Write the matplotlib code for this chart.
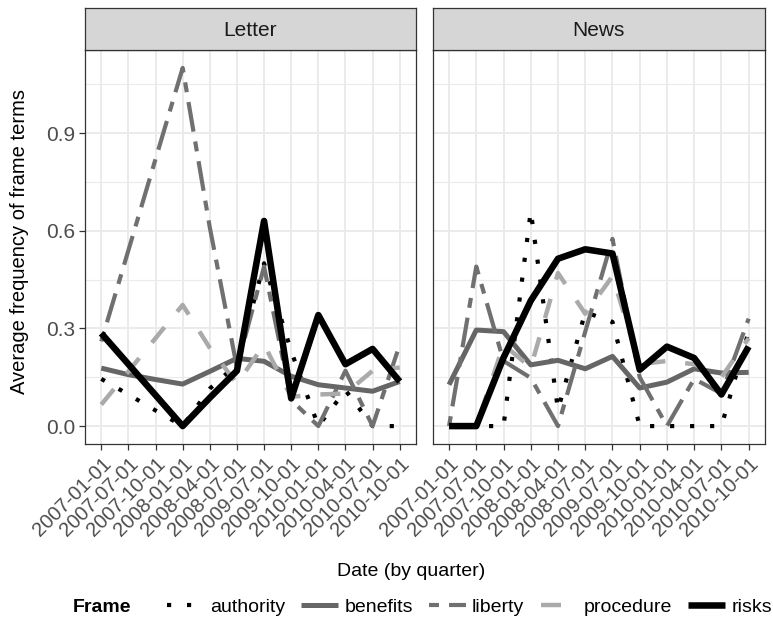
import numpy as np
import matplotlib
matplotlib.use("Agg")
import matplotlib.pyplot as plt

quarters = ["2007-01-01", "2007-07-01", "2007-10-01", "2008-01-01",
            "2008-04-01", "2008-07-01", "2009-07-01", "2009-10-01",
            "2010-01-01", "2010-04-01", "2010-07-01", "2010-10-01"]
frames = ["authority", "benefits", "liberty", "procedure", "risks"]
panels = ["Letter", "News"]

# average frequency of frame terms, one list per frame and source
letter_authority = [0.145, 0.097, 0.048, 0.0, 0.115, 0.19, 0.50, 0.23, 0.0, 0.11, 0.0, 0.0]
letter_benefits = [0.178, 0.158, 0.143, 0.129, 0.168, 0.208, 0.199, 0.153, 0.127, 0.117, 0.107, 0.137]
letter_liberty = [0.26, 0.54, 0.82, 1.10, 0.61, 0.18, 0.49, 0.08, 0.0, 0.17, 0.0, 0.25]
letter_procedure = [0.066, 0.168, 0.27, 0.372, 0.24, 0.13, 0.25, 0.09, 0.097, 0.10, 0.17, 0.18]
letter_risks = [0.285, 0.19, 0.095, 0.0, 0.087, 0.17, 0.63, 0.085, 0.341, 0.19, 0.237, 0.137]

news_authority = [0.0, 0.0, 0.0, 0.66, 0.05, 0.35, 0.32, 0.0, 0.0, 0.0, 0.0, 0.29]
news_benefits = [0.127, 0.295, 0.29, 0.188, 0.202, 0.176, 0.214, 0.117, 0.135, 0.176, 0.163, 0.165]
news_liberty = [0.0, 0.49, 0.2, 0.148, 0.0, 0.29, 0.575, 0.15, 0.0, 0.145, 0.1, 0.33]
news_procedure = [0.0, 0.0, 0.25, 0.18, 0.47, 0.345, 0.46, 0.19, 0.2, 0.19, 0.15, 0.27]
news_risks = [0.0, 0.0, 0.21, 0.385, 0.514, 0.543, 0.53, 0.173, 0.244, 0.209, 0.097, 0.244]

data = {
    "Letter": [letter_authority, letter_benefits, letter_liberty, letter_procedure, letter_risks],
    "News": [news_authority, news_benefits, news_liberty, news_procedure, news_risks],
}

# style per frame: colour, width (pt), dash pattern (in line widths)
styles = {
    "authority": dict(color="black", lw=3.0, dashes=(1, 3.8)),
    "benefits": dict(color="#666666", lw=3.6, dashes=None),
    "liberty": dict(color="#707070", lw=3.0, dashes=(2.4, 2.4, 7.2, 2.4)),
    "procedure": dict(color="#aaaaaa", lw=3.2, dashes=(4.5, 4.5)),
    "risks": dict(color="black", lw=4.7, dashes=None),
}

W, H = 773, 622


def box(x0, y0, x1, y1):
    return [x0 / W, 1 - y1 / H, (x1 - x0) / W, (y1 - y0) / H]


plt.rcParams["font.family"] = ["Liberation Sans", "DejaVu Sans"]

fig = plt.figure(figsize=(W / 100, H / 100), dpi=100)

panel_x = {"Letter": (85, 416), "News": (432.7, 765)}
x = np.arange(len(quarters))
handles = []

for name in panels:
    x0, x1 = panel_x[name]
    ax = fig.add_axes(box(x0, 50, x1, 444))
    for frame, values in zip(frames, data[name]):
        st = styles[frame]
        line, = ax.plot(x, values, color=st["color"], lw=st["lw"],
                        solid_capstyle="butt", label=frame)
        if st["dashes"] is not None:
            line.set_dashes(st["dashes"])
        if name == "Letter":
            handles.append(line)

    ax.set_xlim(-0.6, len(quarters) - 0.4)
    ax.set_ylim(-0.055, 1.155)
    ax.set_xticks(x)
    ax.set_xticklabels(quarters, rotation=45, ha="right", va="top",
                       rotation_mode="anchor", fontsize=14.5)
    ax.set_yticks([0.0, 0.3, 0.6, 0.9])
    ax.set_yticks([0.15, 0.45, 0.75, 1.05], minor=True)
    if name == "Letter":
        ax.set_yticklabels(["0.0", "0.3", "0.6", "0.9"], fontsize=15)
    else:
        ax.tick_params(axis="y", which="both", left=False, labelleft=False)
    ax.grid(True, which="major", color="#ebebeb", lw=1.4)
    ax.grid(True, which="minor", axis="y", color="#ebebeb", lw=0.8)
    ax.set_axisbelow(True)
    ax.tick_params(which="major", length=4, width=0.9, color="#333333",
                   labelcolor="#4d4d4d", pad=3)
    ax.tick_params(which="minor", length=0)
    for sp in ax.spines.values():
        sp.set_color("#333333")
        sp.set_linewidth(0.9)

    strip = fig.add_axes(box(x0, 8, x1, 50))
    strip.set_facecolor("#d6d6d6")
    strip.set_xticks([])
    strip.set_yticks([])
    for sp in strip.spines.values():
        sp.set_color("#333333")
        sp.set_linewidth(0.9)
    strip.text(0.5, 0.47, name, ha="center", va="center", fontsize=15,
               color="#1a1a1a", transform=strip.transAxes)

fig.text(20 / W, 1 - 241 / H, "Average frequency of frame terms",
         rotation=90, ha="center", va="center", fontsize=14.5)
fig.text(411 / W, 1 - 572 / H, "Date (by quarter)", ha="center",
         va="center", fontsize=14)

fig.text(73 / W, 1 - 607 / H, "Frame", ha="left", va="center",
         fontsize=14, fontweight="bold")
fig.legend(handles, frames, loc="center left",
           bbox_to_anchor=(167 / W, 1 - 607 / H), ncol=5, frameon=False,
           fontsize=14, handlelength=1.9, handletextpad=0.3,
           columnspacing=0.85, borderaxespad=0, borderpad=0)

fig.savefig("out.png", dpi=100)
